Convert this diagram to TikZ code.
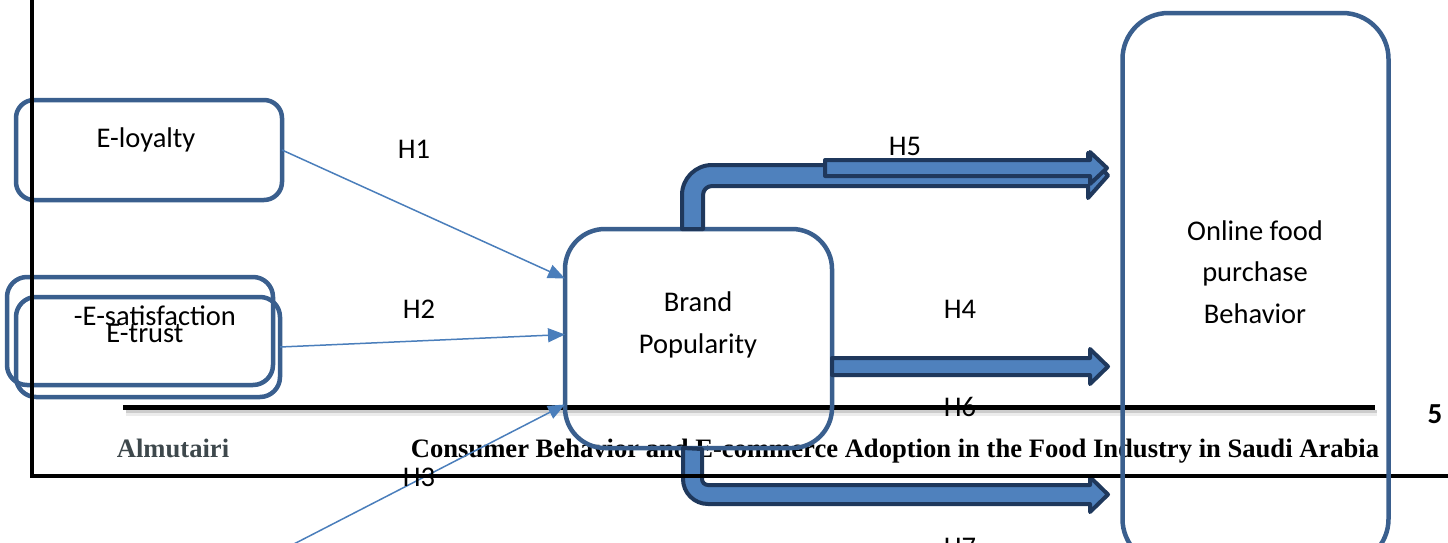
\documentclass[tikz,border=0pt]{standalone}
\usepackage{fontspec}
\setmainfont{Carlito}
\newfontfamily\footfont{Liberation Serif}
\usetikzlibrary{arrows.meta}

\definecolor{boxblue}{RGB}{58,95,142}
\definecolor{linkblue}{RGB}{74,126,187}
\definecolor{fatfill}{RGB}{79,129,189}
\definecolor{fatline}{RGB}{31,56,92}
\definecolor{authgray}{RGB}{62,72,76}

\tikzstyle{construct} = [rectangle, draw=boxblue, line width=4.5pt, inner sep=0pt, outer sep=0pt]
\tikzstyle{txt} = [inner sep=0pt, font=\fontsize{28.5}{41.5}\selectfont, align=center, anchor=base]
\tikzstyle{link} = [draw=linkblue, line width=1.5pt, -{Triangle[length=17pt,width=14pt]}]
\tikzstyle{fat} = [fill=fatfill, draw=fatline, line width=4pt, line join=round]
\tikzstyle{rule} = [black, line width=4.5pt]
\tikzstyle{foot} = [inner sep=0pt, anchor=base, font=\footfont\bfseries\fontsize{26.6}{30}\selectfont]

\begin{document}
\begin{tikzpicture}[x=1pt, y=-1pt]
\useasboundingbox (0,0) rectangle (1448,542);

% page footer
\node (author) [foot, text=authgray] at (173,457) {Almutairi};
\node (title) [foot] at (895,457) {Consumer Behavior and E-commerce Adoption in the Food Industry in Saudi Arabia};
\node (pagenum) [txt, font=\bfseries\fontsize{29}{35}\selectfont] at (1435,423) {5};

% header rule with its shadow
\draw [gray!40, line width=3pt] (126,411) -- (1377,411);
\draw [gray!15, line width=3pt] (126,414) -- (1377,414);
\draw [rule, line width=5pt] (123,407) -- (1375,407);

\node (eloy) [construct, rounded corners=18pt, minimum width=266pt, minimum height=100pt] at (149,150) {};
\node (esat) [construct, rounded corners=20pt, minimum width=266pt, minimum height=108pt] at (140,331) {};
\node (etrust) [construct, rounded corners=20pt, minimum width=264pt, minimum height=100pt] at (148,347) {};
\node (brand) [construct, rounded corners=40pt, minimum width=267pt, minimum height=219pt] at (698.5,338.5) {};

\node (eloytxt) [txt] at (146,147) {E-loyalty};
\node (esattxt) [txt] at (155,325) {-E-satisfaction};
\node (etrusttxt) [txt] at (145,342) {E-trust};
\node (brandtxt) [txt] at (698,353) {Brand\\Popularity};

\coordinate (h3tail) at (290,546);
\coordinate (h5tail) at (825,160);

\draw [link] (eloy.east) -- ([yshift=60pt]brand.west);
\draw [link] (etrust.east) -- ([yshift=4pt]brand.west);
\draw [link] (h3tail) -- ([yshift=-66pt]brand.west);

% bent and straight block arrows
\draw [fat] ([xshift=-16.5pt]brand.north) -- ++(0,-34) arc[start angle=180, end angle=270, radius=30]
  -- ++(376,0) -- ++(0,-12) -- ++(20,22.5) -- ++(-20,22.5) -- ++(0,-12) -- ++(-376,0)
  arc[start angle=270, end angle=180, radius=9] -- ++(0,34) -- cycle;
\draw [fat] (h5tail) -- ++(265,0) -- ++(0,-8) -- ++(17,16) -- ++(-17,16) -- ++(0,-8) -- ++(-265,0) -- cycle;
\draw [fat] ([yshift=-19.5pt]brand.east) -- ++(258,0) -- ++(0,-9) -- ++(18,17.5) -- ++(-18,17.5) -- ++(0,-9) -- ++(-258,0) -- cycle;
\draw [fat] ([xshift=-15.5pt]brand.south) -- ++(0,31) arc[start angle=180, end angle=90, radius=25]
  -- ++(382,0) -- ++(0,8) -- ++(18,-17.5) -- ++(-18,-17.5) -- ++(0,8) -- ++(-382,0)
  arc[start angle=90, end angle=180, radius=6] -- ++(0,-30) -- cycle;

% page frame
\draw [rule, line width=4pt] (32,0) -- (32,476) -- (1448,476);

\node (online) [construct, rounded corners=46pt, minimum width=266pt, minimum height=552pt] at (1255.5,289) {};
\node (onlinetxt) [txt] at (1255,323) {Online food\\purchase\\Behavior};

\node (h1) [txt] at (414,158) {H1};
\node (h2) [txt] at (419,318) {H2};
\node (h3) [txt] at (419,486) {H3};
\node (h4) [txt] at (960,318) {H4};
\node (h5) [txt] at (905,155) {H5};
\node (h6) [txt] at (960,416) {H6};
\node (h7) [txt] at (960,556) {H7};

\end{tikzpicture}
\end{document}
